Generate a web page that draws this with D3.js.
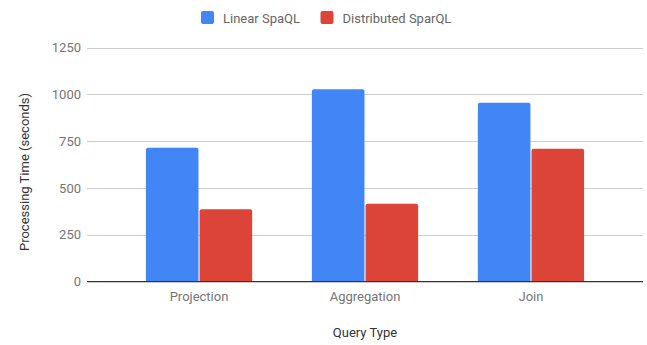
<!DOCTYPE html>
<html>
<head>
<meta charset="utf-8">
<script src="https://cdn.jsdelivr.net/npm/d3@7"></script>
<style>
  body { margin: 0; background: #fff; }
  text { font-family: Roboto, "Noto Sans", sans-serif; }
</style>
</head>
<body>
<div id="chart"></div>
<script>
// data
const categories = ["Projection", "Aggregation", "Join"];
const seriesNames = ["Linear SpaQL", "Distributed SparQL"];
const linearValues = [716, 1028, 956];
const distributedValues = [387, 417, 710];
const yTicks = [0, 250, 500, 750, 1000, 1250];
const colors = ["#4285f4", "#db4437"];

const width = 647, height = 345;
const plot = { left: 87, right: 643, top: 47.7, bottom: 281.7 };

const svg = d3.select("#chart").append("svg")
    .attr("width", width)
    .attr("height", height);

const y = d3.scaleLinear().domain([0, 1250]).range([plot.bottom, plot.top]);
const x0 = d3.scaleBand().domain(categories).range([plot.left, plot.right])
    .paddingInner(0.36).paddingOuter(0.355);
const x1 = d3.scaleBand().domain(seriesNames).range([0, x0.bandwidth()]).paddingInner(0.02);

// gridlines
svg.append("g").selectAll("line")
    .data(yTicks.filter(d => d > 0))
    .enter().append("line")
    .attr("x1", plot.left).attr("x2", plot.right)
    .attr("y1", d => Math.round(y(d)) + 0.5).attr("y2", d => Math.round(y(d)) + 0.5)
    .attr("stroke", "#cccccc").attr("stroke-width", 1);

// y tick labels
svg.append("g").selectAll("text")
    .data(yTicks)
    .enter().append("text")
    .attr("x", 81).attr("y", d => y(d) + 4.5)
    .attr("text-anchor", "end")
    .attr("font-size", 13)
    .attr("fill", "#757575")
    .text(d => d);

// bars
const rows = categories.map((c, i) => ({ cat: c, vals: [linearValues[i], distributedValues[i]] }));
const groups = svg.append("g").selectAll("g")
    .data(rows)
    .enter().append("g")
    .attr("transform", d => `translate(${x0(d.cat)},0)`);

function topRounded(x, yTop, w, h, r) {
    return `M${x},${yTop + h}V${yTop + r}Q${x},${yTop} ${x + r},${yTop}` +
        `H${x + w - r}Q${x + w},${yTop} ${x + w},${yTop + r}V${yTop + h}Z`;
}

groups.selectAll("path")
    .data(d => d.vals.map((v, j) => ({ name: seriesNames[j], v: v, j: j })))
    .enter().append("path")
    .attr("d", d => topRounded(x1(d.name), y(d.v), x1.bandwidth(), plot.bottom - y(d.v), 2))
    .attr("fill", d => colors[d.j]);

// baseline
svg.append("line")
    .attr("x1", plot.left).attr("x2", plot.right)
    .attr("y1", plot.bottom).attr("y2", plot.bottom)
    .attr("stroke", "#333333").attr("stroke-width", 1.3);

// x labels
svg.append("g").selectAll("text")
    .data(categories)
    .enter().append("text")
    .attr("x", d => x0(d) + x0.bandwidth() / 2)
    .attr("y", 301)
    .attr("text-anchor", "middle")
    .attr("font-size", 13)
    .attr("fill", "#757575")
    .text(d => d);

// axis titles
svg.append("text")
    .attr("x", (plot.left + plot.right) / 2).attr("y", 337)
    .attr("text-anchor", "middle")
    .attr("font-size", 13)
    .attr("fill", "#333333")
    .text("Query Type");

svg.append("text")
    .attr("transform", "translate(29,172) rotate(-90)")
    .attr("text-anchor", "middle")
    .attr("font-size", 13)
    .attr("fill", "#333333")
    .text("Processing Time (seconds)");

// legend
const legendX = [201, 320.5];
const legend = svg.append("g").selectAll("g")
    .data(seriesNames)
    .enter().append("g")
    .attr("transform", (d, i) => `translate(${legendX[i]},11)`);
legend.append("rect")
    .attr("width", 13).attr("height", 13).attr("rx", 2)
    .attr("fill", (d, i) => colors[i]);
legend.append("text")
    .attr("x", 22).attr("y", 11.5)
    .attr("font-size", 13)
    .attr("fill", "#666666")
    .text(d => d);
</script>
</body>
</html>
